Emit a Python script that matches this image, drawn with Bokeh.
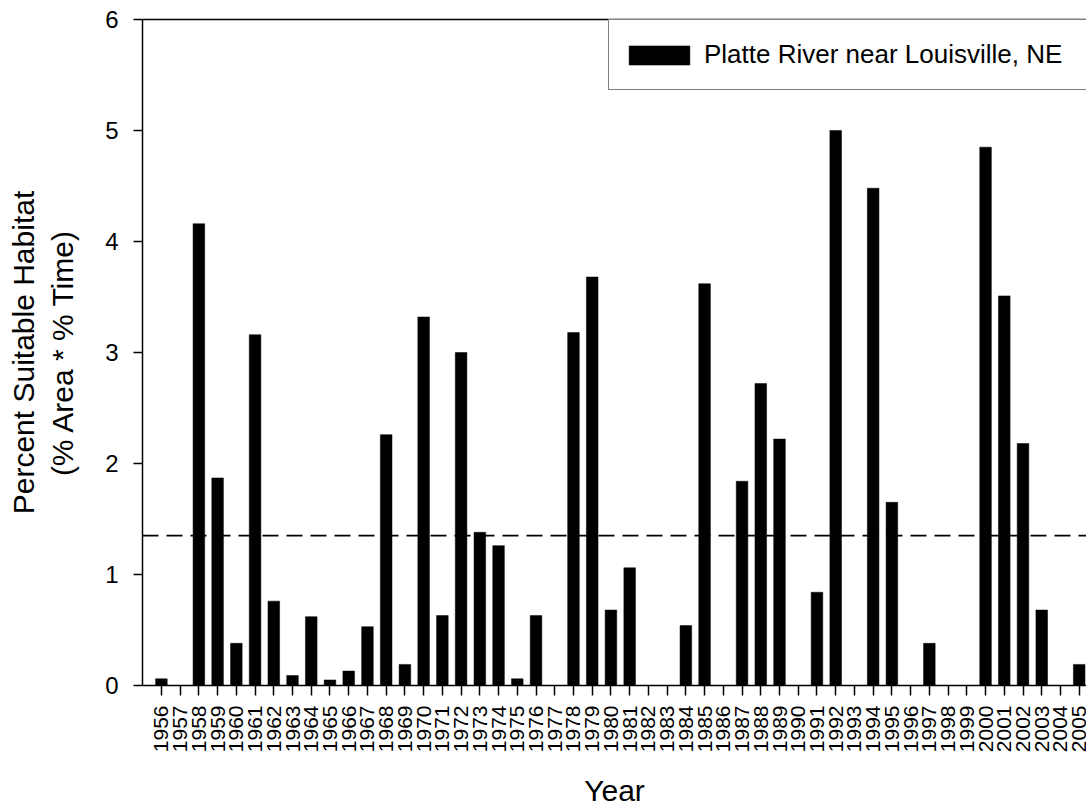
from bokeh.plotting import figure
from bokeh.models import (Range1d, FixedTicker, LinearAxis, Span, Legend, LegendItem,
                          ColumnDataSource)
from bokeh.embed import file_html
from bokeh.resources import INLINE
import math

years = list(range(1956, 2006))
habitat = [0.06, 0.0, 4.16, 1.87, 0.38, 3.16, 0.76, 0.09, 0.62, 0.05,
           0.13, 0.53, 2.26, 0.19, 3.32, 0.63, 3.00, 1.38, 1.26, 0.06,
           0.63, 0.0, 3.18, 3.68, 0.68, 1.06, 0.0, 0.0, 0.54, 3.62,
           0.0, 1.84, 2.72, 2.22, 0.0, 0.84, 5.00, 0.0, 4.48, 1.65,
           0.0, 0.38, 0.0, 0.0, 4.85, 3.51, 2.18, 0.68, 0.0, 0.19]
threshold = 1.35
y_ticks = [0, 1, 2, 3, 4, 5, 6]
series_name = "Platte River near Louisville, NE"
y_title = "Percent Suitable Habitat\n(% Area * % Time)"
x_title = "Year"

FONT = "Liberation Sans"

source = ColumnDataSource(data=dict(year=years, value=habitat))

p = figure(width=1086, height=810, output_backend="svg", toolbar_location=None,
           x_range=Range1d(1954.99, 2005.39), y_range=Range1d(0, 6),
           min_border_left=142, min_border_right=0, min_border_top=19,
           min_border_bottom=100)
p.background_fill_color = "white"
p.border_fill_color = "white"
p.outline_line_color = None
p.xgrid.visible = False
p.ygrid.visible = False

bars = p.vbar(x="year", top="value", bottom=0, width=0.62, source=source,
              fill_color="black", line_color="black", line_width=0.5)

p.add_layout(Span(location=threshold, dimension="width", line_color="black",
                  line_width=1.6, line_dash="16 8"))

# x axis
xa = p.xaxis[0]
xa.ticker = FixedTicker(ticks=years)
xa.major_label_orientation = math.pi / 2
xa.major_label_text_font = FONT
xa.major_label_text_font_size = "21px"
xa.major_label_text_color = "black"
xa.major_tick_out = 10
xa.major_tick_in = 0
xa.minor_tick_out = 0
xa.minor_tick_in = 0
xa.major_label_standoff = 10
xa.axis_line_color = "black"
xa.axis_line_width = 1.5
xa.major_tick_line_width = 1.5
xa.axis_label = x_title
xa.axis_label_text_font = FONT
xa.axis_label_text_font_size = "30px"
xa.axis_label_text_font_style = "normal"
xa.axis_label_text_color = "black"
xa.axis_label_standoff = 19

# y axis
ya = p.yaxis[0]
ya.ticker = FixedTicker(ticks=y_ticks)
ya.major_label_text_font = FONT
ya.major_label_text_font_size = "24px"
ya.major_label_text_color = "black"
ya.major_tick_out = 9
ya.major_tick_in = 0
ya.minor_tick_out = 0
ya.minor_tick_in = 0
ya.major_label_standoff = 15
ya.axis_line_color = "black"
ya.axis_line_width = 1.5
ya.major_tick_line_width = 1.5
ya.axis_label = y_title
ya.axis_label_text_font = FONT
ya.axis_label_text_font_size = "30px"
ya.axis_label_text_font_style = "normal"
ya.axis_label_text_color = "black"
ya.axis_label_standoff = 23

# top frame line
top = LinearAxis(ticker=FixedTicker(ticks=[]), major_tick_out=0, major_tick_in=0,
                 minor_tick_out=0, minor_tick_in=0, axis_line_color="black",
                 axis_line_width=1.5, major_label_text_font_size="0px")
p.add_layout(top, "above")

legend = Legend(items=[LegendItem(label=series_name, renderers=[bars])],
                location=(466, 595), border_line_color="black", border_line_width=1.2,
                background_fill_color="white", background_fill_alpha=1.0,
                label_text_font=FONT, label_text_font_size="26px",
                label_text_color="black",
                glyph_width=76, glyph_height=24, padding=12, label_height=45,
                label_standoff=7, label_width=400, margin=0)
p.add_layout(legend, "center")

open("out.html", "w").write(file_html(p, INLINE))
